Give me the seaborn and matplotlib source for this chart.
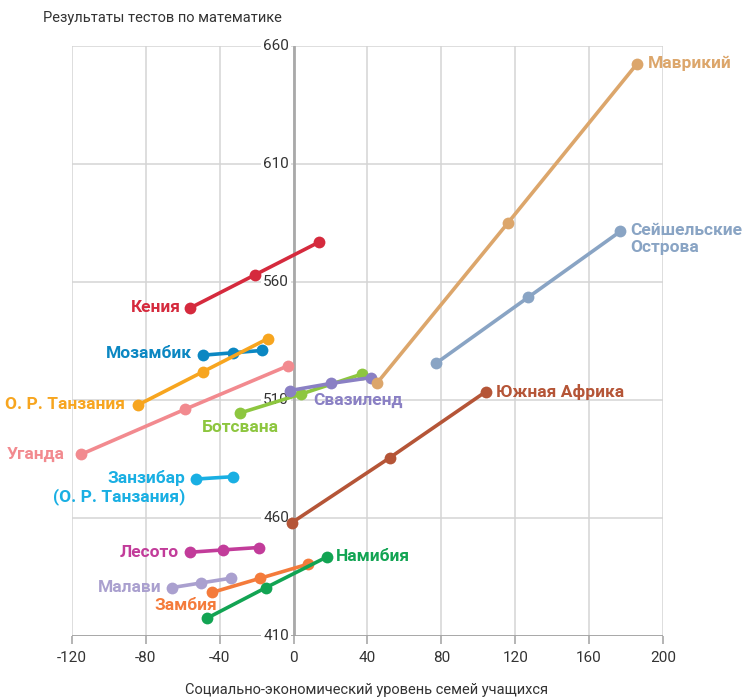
import numpy as np
import pandas as pd
import matplotlib as mpl
import matplotlib.pyplot as plt
plt.switch_backend('Agg')
import seaborn as sns

# socio-economic level (x) and maths score (y) for each country
countries = ["Кения", "Мозамбик", "О. Р. Танзания", "Уганда", "Ботсвана", "Свазиленд",
             "Маврикий", "Сейшельские\nОстрова", "Южная Африка", "Занзибар\n(О. Р. Танзания)",
             "Лесото", "Малави", "Замбия", "Намибия"]
ses = [[-56, -21, 14],
       [-49, -33, -17],
       [-84, -49, -14],
       [-115, -59, -3],
       [-29, 4, 37],
       [-2, 20, 42],
       [45, 116, 186],
       [77, 127, 177],
       [-1, 52, 104],
       [-53, -33],
       [-56, -38, -19],
       [-66, -50, -34],
       [-44, -18, 8],
       [-47, -15, 18]]
scores = [[549, 563, 577],
          [529, 530, 531],
          [508, 522, 536],
          [487, 506, 524.5],
          [504.5, 512.5, 521],
          [514, 517, 519.5],
          [517, 585, 652.5],
          [525.5, 553.5, 581.5],
          [458, 485.5, 513.5],
          [476.5, 477.5],
          [445.5, 446.5, 447.5],
          [430.5, 432.5, 434.5],
          [428.5, 434.5, 440.5],
          [417.5, 430.5, 443.5]]
colors = ["#d52a3d", "#0b87c2", "#f7a51f", "#f28a8f", "#8dc63f", "#8a80c4",
          "#dca66b", "#89a4c4", "#b55537", "#19afe3", "#c23c9a", "#aaa0cf",
          "#f47b3b", "#12a453"]

x_ticks = [-120, -80, -40, 0, 40, 80, 120, 160, 200]
y_ticks = [410, 460, 510, 560, 610, 660]

# label placement: anchor point index, pixel offset, alignment
label_pos = {
    "Кения": (0, -9, 0, "right", "center"),
    "Мозамбик": (0, -11, 2, "right", "center"),
    "О. Р. Танзания": (0, -13, 0, "right", "center"),
    "Уганда": (0, -17, 0, "right", "center"),
    "Ботсвана": (0, 0, -15, "center", "center"),
    "Свазиленд": (1, 27, -17, "center", "center"),
    "Маврикий": (-1, 11, 0, "left", "center"),
    "Сейшельские\nОстрова": (-1, 10, 8, "left", "top"),
    "Южная Африка": (-1, 10, 0, "left", "center"),
    "Занзибар\n(О. Р. Танзания)": (0, -10, 9, "right", "top"),
    "Лесото": (0, -11, 0, "right", "center"),
    "Малави": (0, -10, 0, "right", "center"),
    "Замбия": (0, -27, -13, "center", "center"),
    "Намибия": (-1, 9, 0, "left", "center"),
}

rows = []
for c, xs, ys in zip(countries, ses, scores):
    for xv, yv in zip(xs, ys):
        rows.append({"country": c, "ses": xv, "score": yv})
df = pd.DataFrame(rows)

sns.set_style("white")
plt.rcParams['font.family'] = ['Roboto', 'DejaVu Sans']

fig = plt.figure(figsize=(7.42, 7.0), dpi=100)
ax = fig.add_axes([0.097, 0.0914, 0.7965, 0.8429])

gridc = "#d4d4d4"
for xv in x_ticks:
    ax.axvline(xv, color=gridc, lw=1.1, zorder=0)
for yv in y_ticks[1:]:
    ax.axhline(yv, color=gridc, lw=1.1, zorder=0)
ax.axvline(0, color="#a9a9a9", lw=2, zorder=1)
ax.axhline(410, color="#a0a0a0", lw=1.3, zorder=1)

sns.lineplot(data=df, x="ses", y="score", hue="country", hue_order=countries,
             palette=colors, marker="o", markersize=8.5, markeredgewidth=0,
             linewidth=2.6, sort=False, legend=False, ax=ax, zorder=5)

for c, xs, ys, col in zip(countries, ses, scores, colors):
    i, dx, dy, ha, va = label_pos[c]
    ax.annotate(c, (xs[i], ys[i]), xytext=(dx, dy), textcoords="offset pixels",
                ha=ha, va=va, multialignment=ha if ha != "center" else "center",
                color=col, fontsize=12.5, fontweight="bold", zorder=6,
                linespacing=1.12)

# y tick labels sit on the zero line
for yv in y_ticks:
    ax.text(-2.5, yv, str(yv), ha="right", va="center", fontsize=11,
            color="#333333", zorder=3,
            bbox=dict(facecolor="white", edgecolor="none", pad=1.5))

ax.set_xlim(-120, 200)
ax.set_ylim(410, 660)
ax.set_xticks(x_ticks)
ax.set_xticklabels([str(v) for v in x_ticks])
ax.set_yticks([])
ax.tick_params(axis="x", direction="out", length=6, width=1.1, color="#a0a0a0",
               labelsize=11, labelcolor="#333333", pad=5, bottom=True)
for s in ax.spines.values():
    s.set_visible(False)
ax.set_xlabel("")
ax.set_ylabel("")

fig.text(43 / 742, 1 - 18 / 700, "Результаты тестов по математике", ha="left",
         va="center", fontsize=10.5, color="#333333")
fig.text(367 / 742, 1 - 690 / 700, "Социально-экономический уровень семей учащихся",
         ha="center", va="center", fontsize=10.5, color="#333333")

fig.savefig("out.png", dpi=100)
